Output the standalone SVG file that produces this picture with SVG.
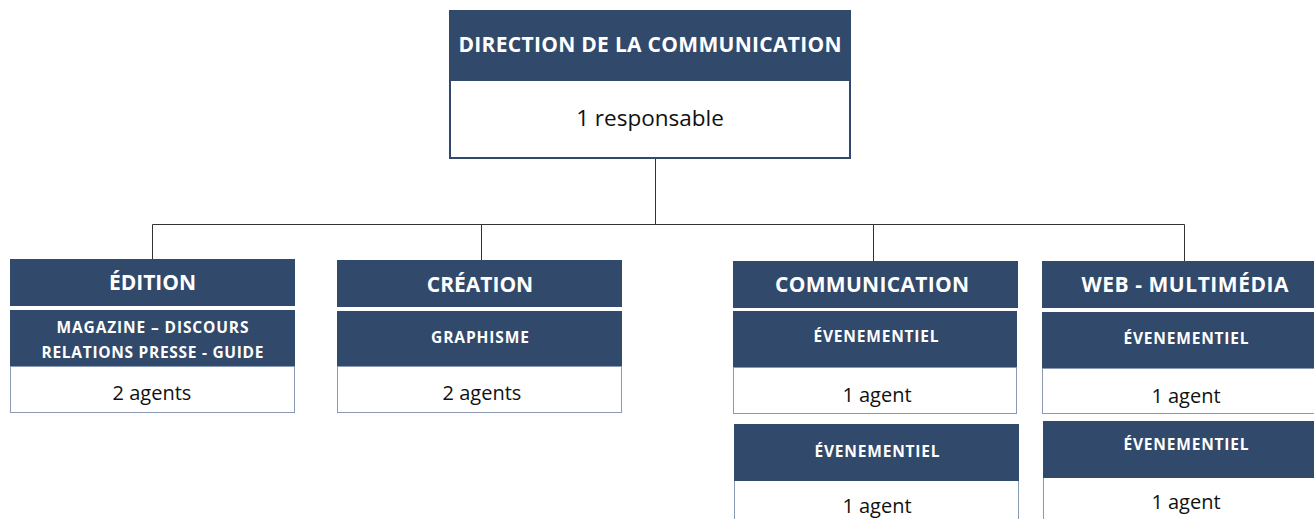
<svg xmlns="http://www.w3.org/2000/svg" width="1314" height="519" viewBox="0 0 1314 519">
<style>
.dark{fill:#31496B}
.white{fill:#ffffff;stroke:#8A9AB3;stroke-width:1}
.top{fill:#ffffff;stroke:#31496B;stroke-width:2}
.h{font-family:"Open Sans","Liberation Sans",sans-serif;font-weight:bold;fill:#ffffff;text-anchor:middle;font-size:21px}
.s{font-family:"Open Sans","Liberation Sans",sans-serif;font-weight:bold;fill:#ffffff;text-anchor:middle;font-size:15.5px}
.t{font-family:"Open Sans","Liberation Sans",sans-serif;fill:#111111;text-anchor:middle;font-size:20px}
.c{stroke:#333333;stroke-width:1;fill:none}
</style>
<g id="connectors">
<path class="c" d="M655.5 159 V224.5 M152.5 224.5 H1184.5 M152.5 224.5 V259 M481.5 224.5 V260 M873.5 224.5 V261 M1184.5 224.5 V261"/>
</g>
<g id="direction">
<rect class="top" x="450" y="80" width="400" height="78"/>
<rect class="dark" x="449" y="10" width="402" height="71"/>
<text class="h" x="650" y="52" textLength="383">DIRECTION DE LA COMMUNICATION</text>
<text class="t" x="650" y="126" style="font-size:22.5px">1 responsable</text>
</g>
<g id="edition">
<rect class="dark" x="10" y="259" width="285" height="47"/>
<rect class="dark" x="10" y="310" width="285" height="57"/>
<rect class="white" x="10.5" y="366.5" width="284" height="46"/>
<text class="h" x="152.5" y="290">ÉDITION</text>
<text class="s" x="152.5" y="333" textLength="192">MAGAZINE – DISCOURS</text>
<text class="s" x="152.5" y="358" textLength="222">RELATIONS PRESSE - GUIDE</text>
<text class="t" x="152" y="400">2 agents</text>
</g>
<g id="creation">
<rect class="dark" x="337" y="260" width="285" height="47"/>
<rect class="dark" x="337" y="311" width="285" height="56"/>
<rect class="white" x="337.5" y="366.5" width="284" height="46"/>
<text class="h" x="480" y="292">CRÉATION</text>
<text class="s" x="480" y="343" textLength="98">GRAPHISME</text>
<text class="t" x="482" y="400">2 agents</text>
</g>
<g id="communication">
<rect class="dark" x="733" y="261" width="285" height="47"/>
<rect class="dark" x="733" y="311" width="284" height="57"/>
<rect class="white" x="733.5" y="367.5" width="283" height="46"/>
<text class="h" x="872" y="292" textLength="194">COMMUNICATION</text>
<text class="s" x="876" y="342" textLength="125">ÉVENEMENTIEL</text>
<text class="t" x="877" y="402">1 agent</text>
</g>
<g id="communication-2">
<rect class="white" x="734.5" y="480.5" width="284" height="50"/>
<rect class="dark" x="734" y="424" width="285" height="57"/>
<text class="s" x="877" y="457" textLength="125">ÉVENEMENTIEL</text>
<text class="t" x="877" y="513">1 agent</text>
</g>
<g id="web">
<rect class="dark" x="1042" y="261" width="280" height="47"/>
<rect class="dark" x="1042" y="312" width="280" height="57"/>
<rect class="white" x="1042.5" y="368.5" width="280" height="45"/>
<text class="h" x="1185" y="292" textLength="207">WEB - MULTIMÉDIA</text>
<text class="s" x="1186" y="344" textLength="125">ÉVENEMENTIEL</text>
<text class="t" x="1186" y="403">1 agent</text>
</g>
<g id="web-2">
<rect class="white" x="1043.5" y="477.5" width="280" height="50"/>
<rect class="dark" x="1043" y="421" width="280" height="57"/>
<text class="s" x="1186" y="450" textLength="125">ÉVENEMENTIEL</text>
<text class="t" x="1186" y="509">1 agent</text>
</g>
</svg>
